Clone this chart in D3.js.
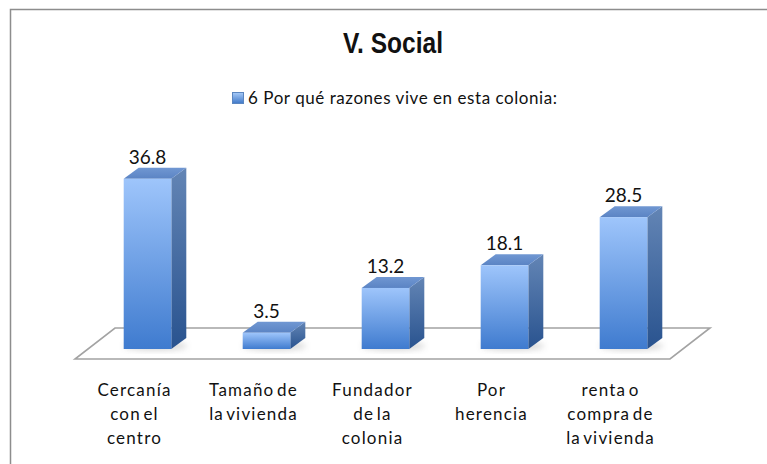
<!DOCTYPE html>
<html lang="es">
  <head>
    <meta charset="UTF-8" />
    <title>V. Social</title>
    <script src="https://cdn.jsdelivr.net/npm/d3@7"></script>
    <style>
      body { margin: 0; background: #fff; }
      svg { display: block; }
    </style>
  </head>
  <body>
    <svg></svg>
    <script>
      // data
      const categories = [
        "Cercanía con el centro",
        "Tamaño de la vivienda",
        "Fundador de la colonia",
        "Por herencia",
        "renta o compra de la vivienda",
      ];
      const categoryLines = [
        ["Cercanía", "con el", "centro"],
        ["Tamaño de", "la vivienda"],
        ["Fundador", "de la", "colonia"],
        ["Por", "herencia"],
        ["renta o", "compra de", "la vivienda"],
      ];
      const values = [36.8, 3.5, 13.2, 18.1, 28.5];
      const seriesName = "6 Por qué razones vive en esta colonia:";
      const title = "V. Social";

      let width = 767,
        height = 464;

      let svg = d3.select("svg").attr("width", width).attr("height", height);

      // 3d look: floor depth, bar offset into the floor, bar depth
      const floorFront = 359,
        floorDx = 40,
        floorDy = -31;
      const shiftX = 13,
        shiftY = -10;
      const depthX = 15,
        depthY = -11;

      let x = d3
        .scaleBand()
        .domain(categories)
        .range([75, 670])
        .paddingInner(0.6)
        .paddingOuter(0.3);
      let y = d3
        .scaleLinear()
        .domain([0, 40])
        .range([floorFront + shiftY, floorFront + shiftY - 185]);
      let bw = x.bandwidth();

      let defs = svg.append("defs");
      function grad(id, c1, c2) {
        let g = defs
          .append("linearGradient")
          .attr("id", id)
          .attr("x1", 0)
          .attr("y1", 0)
          .attr("x2", 0)
          .attr("y2", 1);
        g.append("stop").attr("offset", "0%").attr("stop-color", c1);
        g.append("stop").attr("offset", "100%").attr("stop-color", c2);
      }
      grad("front", "#9ec5fb", "#3f7bcf");
      grad("side", "#6385b5", "#29538f");
      grad("top", "#7097d2", "#5b84c4");
      grad("legendSq", "#a8cbf8", "#3f78c8");
      defs
        .append("filter")
        .attr("id", "blur")
        .attr("x", "-50%")
        .attr("y", "-50%")
        .attr("width", "200%")
        .attr("height", "200%")
        .append("feGaussianBlur")
        .attr("stdDeviation", 3);

      // chart border (runs off the right and bottom)
      svg
        .append("rect")
        .attr("x", 10.5)
        .attr("y", 9.5)
        .attr("width", 800)
        .attr("height", 500)
        .attr("fill", "#fff")
        .attr("stroke", "#8d8d8d")
        .attr("stroke-width", 1.5);

      // title
      svg
        .append("text")
        .attr("x", 393)
        .attr("y", 53)
        .attr("text-anchor", "middle")
        .attr("font-family", "'Liberation Sans Narrow', 'Arial Narrow', 'Liberation Sans', sans-serif")
        .attr("font-weight", "bold")
        .attr("font-size", 29)
        .attr("textLength", 100)
        .attr("lengthAdjust", "spacingAndGlyphs")
        .attr("fill", "#111")
        .text(title);

      // legend
      svg
        .append("rect")
        .attr("x", 232.5)
        .attr("y", 92.5)
        .attr("width", 11)
        .attr("height", 11)
        .attr("fill", "url(#legendSq)")
        .attr("stroke", "#5b86c0")
        .attr("stroke-width", 1);
      svg
        .append("text")
        .attr("x", 248)
        .attr("y", 104)
        .attr("font-family", "Lato, sans-serif")
        .attr("font-size", 17)
        .attr("textLength", 309)
        .attr("lengthAdjust", "spacing")
        .attr("fill", "#111")
        .text(seriesName);

      // floor
      let x0 = x.range()[0],
        x1 = x.range()[1];
      svg
        .append("path")
        .attr(
          "d",
          `M${x0},${floorFront}L${x1},${floorFront}L${x1 + floorDx},${floorFront + floorDy}L${x0 + floorDx},${floorFront + floorDy}Z`
        )
        .attr("fill", "#fff")
        .attr("stroke", "#a3a3a3")
        .attr("stroke-width", 1.6);

      let bars = svg
        .append("g")
        .selectAll("g")
        .data(categories)
        .enter()
        .append("g");

      // soft shadow on the floor
      bars
        .append("ellipse")
        .attr("cx", (d) => x(d) + shiftX + bw / 2 + 8)
        .attr("cy", y(0) - 3)
        .attr("rx", bw / 2 + 8)
        .attr("ry", 4)
        .attr("fill", "#9a9a9a")
        .attr("opacity", 0.45)
        .attr("filter", "url(#blur)");

      // side face
      bars
        .append("path")
        .attr("d", (d, i) => {
          let bx = x(d) + shiftX + bw,
            ty = y(values[i]),
            by = y(0);
          return `M${bx},${ty}L${bx + depthX},${ty + depthY}L${bx + depthX},${by + depthY}L${bx},${by}Z`;
        })
        .attr("fill", "url(#side)");

      // top face
      bars
        .append("path")
        .attr("d", (d, i) => {
          let bx = x(d) + shiftX,
            ty = y(values[i]);
          return `M${bx},${ty}L${bx + bw},${ty}L${bx + bw + depthX},${ty + depthY}L${bx + depthX},${ty + depthY}Z`;
        })
        .attr("fill", "url(#top)");

      // front face
      bars
        .append("rect")
        .attr("x", (d) => x(d) + shiftX)
        .attr("y", (d, i) => y(values[i]))
        .attr("width", bw)
        .attr("height", (d, i) => y(0) - y(values[i]))
        .attr("fill", "url(#front)");

      // value labels
      bars
        .append("text")
        .attr("x", (d) => x(d) + shiftX + bw / 2)
        .attr("y", (d, i) => y(values[i]) - 15)
        .attr("text-anchor", "middle")
        .attr("font-family", "Lato, sans-serif")
        .attr("font-size", 19)
        .attr("fill", "#111")
        .text((d, i) => values[i]);

      // category labels
      let cat = svg
        .append("g")
        .selectAll("text")
        .data(categories)
        .enter()
        .append("text")
        .attr("x", (d) => x(d) + bw / 2)
        .attr("y", 396)
        .attr("text-anchor", "middle")
        .attr("font-family", "Lato, sans-serif")
        .attr("font-size", 17)
        .attr("letter-spacing", 1.2)
        .attr("word-spacing", -3)
        .attr("fill", "#111");
      cat
        .selectAll("tspan")
        .data((d, i) => categoryLines[i])
        .enter()
        .append("tspan")
        .attr("x", function () {
          return d3.select(this.parentNode).attr("x");
        })
        .attr("dy", (d, i) => (i == 0 ? 0 : 24))
        .text((d) => d);
    </script>
  </body>
</html>
